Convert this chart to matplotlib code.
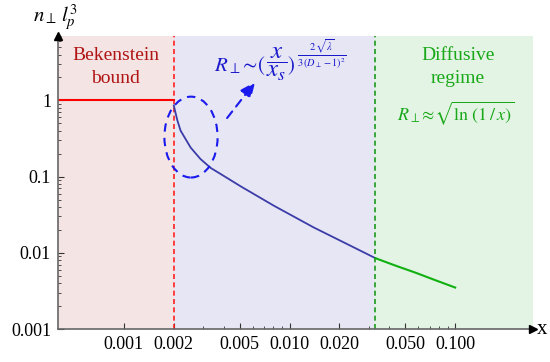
import matplotlib
matplotlib.use("Agg")
import matplotlib.pyplot as plt
import matplotlib.ticker as mticker
from matplotlib.patches import Ellipse

plt.rcParams["font.family"] = ["Liberation Serif", "DejaVu Serif"]
plt.rcParams["mathtext.fontset"] = "stix"

W, H = 550, 362

# region boundaries and limits
x_min, x_max = 0.0004, 0.295
y_min, y_max = 0.001, 7.0
x_bekenstein = 0.002
x_diffusive = 0.033

# Bekenstein bound (flat at 1)
bound_x = [0.0004, 0.002]
bound_y = [1.0, 1.0]

# power-law regime (blue)
power_x = [0.002, 0.0021, 0.0022, 0.00253, 0.0029, 0.00334, 0.0041, 0.00507, 0.00804, 0.014, 0.0223, 0.033]
power_y = [0.86, 0.55, 0.40, 0.24, 0.17, 0.13, 0.099, 0.0745, 0.0415, 0.0215, 0.013, 0.0085]

# diffusive regime (green)
diff_x = [0.033, 0.0435, 0.0574, 0.0759, 0.1]
diff_y = [0.0085, 0.0068, 0.0055, 0.00437, 0.0035]

x_ticks = [0.001, 0.002, 0.005, 0.010, 0.020, 0.050, 0.100]
x_ticklabels = ["0.001", "0.002", "0.005", "0.010", "0.020", "0.050", "0.100"]
x_minor = [0.003, 0.004, 0.006, 0.007, 0.008, 0.009, 0.03, 0.04, 0.06, 0.07, 0.08, 0.09]
y_ticks = [0.001, 0.01, 0.1, 1]
y_ticklabels = ["0.001", "0.01", "0.1", "1"]


def fpx(x, y):
    # pixel position -> figure fraction
    return x / W, 1 - y / H


fig = plt.figure(figsize=(5.5, 3.62), dpi=100)
ax = fig.add_axes([58 / W, 33 / H, 475 / W, 293 / H])
ax.set_xscale("log")
ax.set_yscale("log")
ax.set_xlim(x_min, x_max)
ax.set_ylim(y_min, y_max)

ax.axvspan(x_min, x_bekenstein, color="#f5e4e4", lw=0, zorder=0)
ax.axvspan(x_bekenstein, x_diffusive, color="#e6e6f5", lw=0, zorder=0)
ax.axvspan(x_diffusive, x_max, color="#e4f4e4", lw=0, zorder=0)

ax.axvline(x_bekenstein, color="#ff2020", lw=1.2, ls=(0, (3, 2)), zorder=2)
ax.axvline(x_diffusive, color="#1a9a1a", lw=1.2, ls=(0, (3, 2)), zorder=2)

ax.plot(bound_x, bound_y, color="#ff0000", lw=1.5, zorder=3)
ax.plot(power_x, power_y, color="#3c3ca8", lw=1.3, zorder=3)
ax.plot(diff_x, diff_y, color="#10b010", lw=1.5, zorder=3)

# ellipse + dashed arrow highlighting the power law
ax.add_patch(Ellipse((0.28, 0.655), 0.112, 0.276, transform=ax.transAxes,
                     fill=False, ec="#1a1aee", lw=1.5, ls=(0, (4, 3)), zorder=4))
ax.annotate("", xy=(0.415, 0.843), xytext=(0.356, 0.72), xycoords="axes fraction",
            arrowprops=dict(arrowstyle="-|>,head_length=0.9,head_width=0.4",
                            color="#1a1aee", lw=1.5, ls=(0, (4, 3)), shrinkA=0, shrinkB=0),
            zorder=4)

# annotations
ax.text(0.122, 0.895, "Bekenstein\nbound", transform=ax.transAxes, ha="center", va="center",
        fontsize=14, color="#b01515", linespacing=1.45)
ax.text(0.842, 0.895, "Diffusive\nregime", transform=ax.transAxes, ha="center", va="center",
        fontsize=14, color="#18a818", linespacing=1.45)
ax.text(0.838, 0.737, r"$R_{\perp}\!\approx\!\sqrt{\ln\,(1\,/\,x)}$", transform=ax.transAxes,
        ha="center", va="center", fontsize=13, color="#18a818")

# power-law formula, built from pieces so the fraction stays large
blue = "#1a1acc"
fig.text(*fpx(266, 66), r"$R_{\perp}\!\sim\!($", ha="right", va="center", fontsize=15, color=blue)
fig.text(*fpx(277, 64), r"$\dfrac{x}{x_s}$", ha="center", va="center", fontsize=18, color=blue)
fig.text(*fpx(287, 66), r"$)$", ha="left", va="center", fontsize=15, color=blue)
fig.text(*fpx(322, 54), r"$\frac{2\,\sqrt{\lambda}}{3\,(D_{\perp}-1)^2}$", ha="center", va="center",
         fontsize=10.5, color=blue)

# axes styling: arrowed left/bottom spines only
for side in ["top", "right"]:
    ax.spines[side].set_visible(False)
for side in ["left", "bottom"]:
    ax.spines[side].set_color("#666666")
    ax.spines[side].set_linewidth(1.2)
    ax.spines[side].set_zorder(6)
ax.plot(1, 0, ">", color="black", ms=6, transform=ax.transAxes, clip_on=False, zorder=7)
ax.plot(0, 1, "^", color="black", ms=6, transform=ax.transAxes, clip_on=False, zorder=7)

ax.xaxis.set_major_locator(mticker.FixedLocator(x_ticks))
ax.xaxis.set_major_formatter(mticker.FixedFormatter(x_ticklabels))
ax.xaxis.set_minor_locator(mticker.FixedLocator(x_minor))
ax.xaxis.set_minor_formatter(mticker.NullFormatter())
ax.yaxis.set_major_locator(mticker.FixedLocator(y_ticks))
ax.yaxis.set_major_formatter(mticker.FixedFormatter(y_ticklabels))
ax.yaxis.set_minor_locator(mticker.LogLocator(base=10, subs=range(2, 10)))
ax.yaxis.set_minor_formatter(mticker.NullFormatter())
ax.tick_params(which="major", direction="in", length=4, width=0.8, color="#333333",
               labelsize=13, pad=5)
ax.tick_params(which="minor", direction="in", length=2, width=0.6, color="#333333")

fig.text(0.1, 0.95, r"$n_{\perp}\, l_p^3$", ha="center", va="center", fontsize=15)
fig.text(0.985, 0.091, "x", ha="center", va="center", fontsize=15)

fig.savefig("out.png", dpi=100)
